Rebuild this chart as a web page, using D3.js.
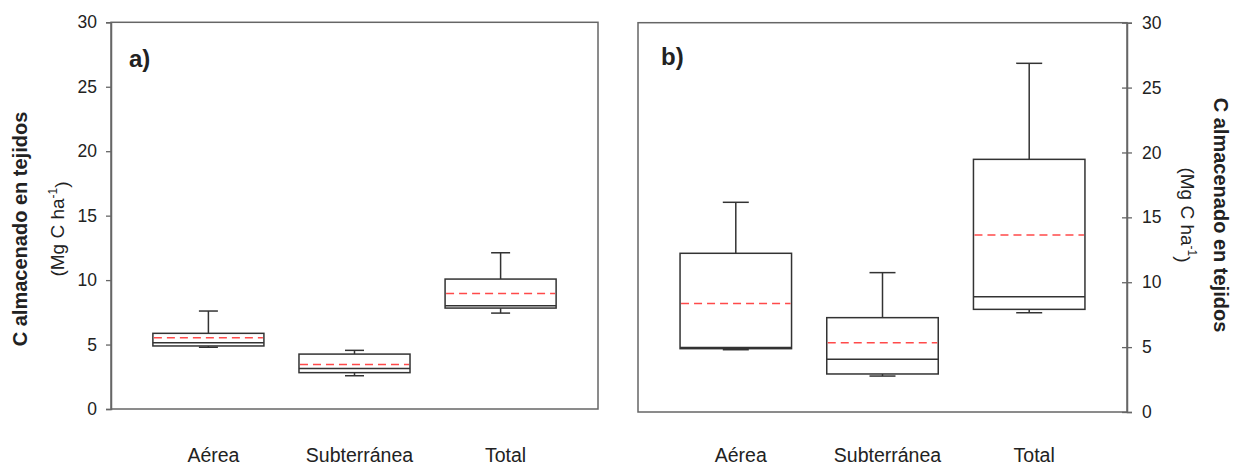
<!DOCTYPE html>
<html>
<head>
<meta charset="utf-8">
<script src="https://cdn.jsdelivr.net/npm/d3@7"></script>
<style>
  body { margin: 0; background: #fff; }
  svg text { font-family: "Liberation Sans", Arial, sans-serif; fill: #222; }
</style>
</head>
<body>
<svg id="chart" width="1234" height="468"></svg>
<script>
// --- data (Mg C ha-1) ---
const categories = ["Aérea", "Subterránea", "Total"];
const yTicks = [0, 5, 10, 15, 20, 25, 30];

// panel a
const aLow    = [4.79, 2.58, 7.44];
const aQ1     = [4.89, 2.82, 7.83];
const aMedian = [5.14, 3.15, 8.01];
const aQ3     = [5.87, 4.26, 10.08];
const aHigh   = [7.60, 4.55, 12.12];
const aMean   = [5.53, 3.46, 8.97];

// panel b
const bLow    = [4.80, 2.77, 7.65];
const bQ1     = [4.88, 2.93, 7.91];
const bMedian = [4.98, 4.06, 8.89];
const bQ3     = [12.23, 7.27, 19.47];
const bHigh   = [16.16, 10.74, 26.87];
const bMean   = [8.37, 5.34, 13.64];

const svg = d3.select('#chart');

function boxRows(low, q1, med, q3, high, mean) {
    return categories.map((c, i) => ({
        cat: c, low: low[i], q1: q1[i], med: med[i], q3: q3[i], high: high[i], mean: mean[i]
    }));
}

const panels = [
    { tag: 'a)', left: 111, right: 598, top: 22.3, bottom: 409, side: 'left', cap: 19,
      rows: boxRows(aLow, aQ1, aMedian, aQ3, aHigh, aMean), tagX: 129, tagY: 67 },
    { tag: 'b)', left: 638, right: 1127, top: 22.7, bottom: 412, side: 'right', cap: 26,
      rows: boxRows(bLow, bQ1, bMedian, bQ3, bHigh, bMean), tagX: 661, tagY: 65 }
];

panels.forEach(p => {
    const w = p.right - p.left;
    const x = d3.scalePoint().domain(categories).range([p.left + 0.2 * w, p.left + 0.8 * w]);
    const y = d3.scaleLinear().domain([0, 30]).range([p.bottom, p.top]);
    const boxW = 0.228 * w;

    const g = svg.append('g');

    // frame
    g.append('rect')
        .attr('x', p.left).attr('y', y(30))
        .attr('width', w).attr('height', y(0) - y(30))
        .attr('fill', 'none').attr('stroke', '#666').attr('stroke-width', 1.5);

    // y axis
    if (p.side === 'left') {
        const ax = g.append('g')
            .attr('transform', `translate(${p.left},0)`)
            .call(d3.axisLeft(y).tickValues(yTicks).tickSize(5).tickPadding(9));
        ax.select('.domain').attr('stroke', '#666').attr('stroke-width', 1.5);
        ax.selectAll('.tick line').attr('stroke', '#666').attr('stroke-width', 1.3);
        ax.selectAll('.tick text').style('font-size', '17.5px').attr('fill', '#333');
    } else {
        const ax = g.append('g')
            .attr('transform', `translate(${p.right},0)`)
            .call(d3.axisRight(y).tickValues(yTicks).tickSize(5).tickPadding(10));
        ax.select('.domain').attr('stroke', '#666').attr('stroke-width', 1.5);
        // ticks cross the axis in this panel
        ax.selectAll('.tick line').attr('x1', -5).attr('x2', 5)
            .attr('stroke', '#666').attr('stroke-width', 1.3);
        ax.selectAll('.tick text').style('font-size', '17.5px').attr('fill', '#333');
    }

    // category labels
    g.selectAll('text.cat')
        .data(categories)
        .join('text')
        .attr('class', 'cat')
        .attr('x', d => x(d) + 5)
        .attr('y', 462)
        .attr('text-anchor', 'middle')
        .style('font-size', '19.5px')
        .text(d => d);

    // panel tag
    g.append('text')
        .attr('x', p.tagX).attr('y', p.tagY)
        .style('font-size', '24px').style('font-weight', 'bold')
        .text(p.tag);

    // boxes
    const b = g.selectAll('g.box')
        .data(p.rows)
        .join('g')
        .attr('class', 'box');

    const stroke = '#333';

    // whiskers
    b.append('line')
        .attr('x1', d => x(d.cat)).attr('x2', d => x(d.cat))
        .attr('y1', d => y(d.q3)).attr('y2', d => y(d.high))
        .attr('stroke', stroke).attr('stroke-width', 1.5);
    b.append('line')
        .attr('x1', d => x(d.cat)).attr('x2', d => x(d.cat))
        .attr('y1', d => y(d.q1)).attr('y2', d => y(d.low))
        .attr('stroke', stroke).attr('stroke-width', 1.5);
    // caps
    ['high', 'low'].forEach(k => {
        b.append('line')
            .attr('x1', d => x(d.cat) - p.cap / 2).attr('x2', d => x(d.cat) + p.cap / 2)
            .attr('y1', d => y(d[k])).attr('y2', d => y(d[k]))
            .attr('stroke', stroke).attr('stroke-width', 1.5);
    });

    // box
    b.append('rect')
        .attr('x', d => x(d.cat) - boxW / 2)
        .attr('y', d => y(d.q3))
        .attr('width', boxW)
        .attr('height', d => y(d.q1) - y(d.q3))
        .attr('fill', '#fff')
        .attr('stroke', stroke).attr('stroke-width', 1.5);

    // median
    b.append('line')
        .attr('x1', d => x(d.cat) - boxW / 2).attr('x2', d => x(d.cat) + boxW / 2)
        .attr('y1', d => y(d.med)).attr('y2', d => y(d.med))
        .attr('stroke', stroke).attr('stroke-width', 1.5);

    // mean (red dashed)
    b.append('line')
        .attr('x1', d => x(d.cat) - boxW / 2 + 1).attr('x2', d => x(d.cat) + boxW / 2 - 1)
        .attr('y1', d => y(d.mean)).attr('y2', d => y(d.mean))
        .attr('stroke', '#ff4a4a').attr('stroke-width', 1.5)
        .attr('stroke-dasharray', '8,5');
});

// y titles
function yTitle(cx1, cx2, cy, angle) {
    svg.append('text')
        .attr('transform', `translate(${cx1},${cy}) rotate(${angle})`)
        .attr('text-anchor', 'middle').attr('dy', '0.36em')
        .style('font-size', '20px').style('font-weight', 'bold')
        .text('C almacenado en tejidos');
    const t = svg.append('text')
        .attr('transform', `translate(${cx2},${cy}) rotate(${angle})`)
        .attr('text-anchor', 'middle').attr('dy', '0.36em')
        .style('font-size', '19px');
    t.append('tspan').text('(Mg C ha');
    t.append('tspan').attr('dy', '-0.55em').style('font-size', '12px').text('-1');
    t.append('tspan').attr('dy', '0.55em').text(')');
}
yTitle(20, 57, 229, -90);
yTitle(1221, 1188, 215, 90);
</script>
</body>
</html>
